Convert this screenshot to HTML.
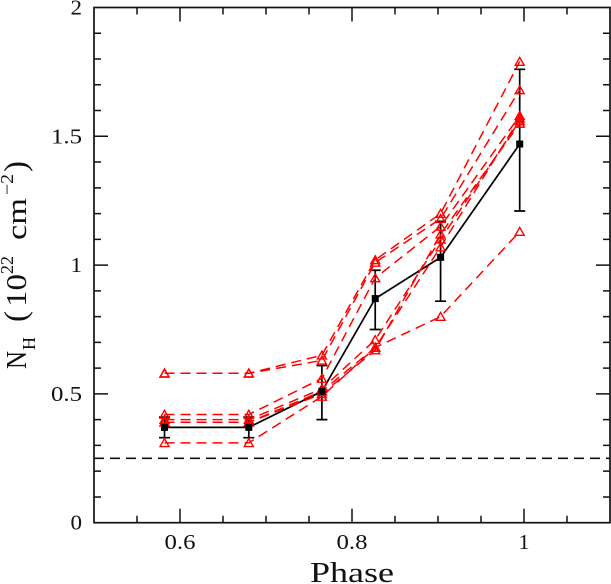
<!DOCTYPE html>
<html>
<head>
<meta charset="utf-8">
<style>
html,body{margin:0;padding:0;background:#fff;}
svg{display:block;}
text{font-family:"Liberation Serif",serif;fill:#111;}
</style>
</head>
<body>
<svg id="chart" xmlns="http://www.w3.org/2000/svg" width="611" height="584" viewBox="0 0 611 584">
<rect x="0" y="0" width="611" height="584" fill="#fff"/>
<text x="310" y="582" font-size="29" textLength="84" lengthAdjust="spacingAndGlyphs">Phase</text>
<g>
<text transform="translate(26,369) rotate(-90)" font-size="28" textLength="18" lengthAdjust="spacingAndGlyphs">N</text>
<text transform="translate(35,350) rotate(-90)" font-size="18" textLength="13" lengthAdjust="spacingAndGlyphs">H</text>
<text transform="translate(26,322) rotate(-90)" font-size="32" textLength="11" lengthAdjust="spacingAndGlyphs">(</text>
<text transform="translate(26,307) rotate(-90)" font-size="28" textLength="33" lengthAdjust="spacingAndGlyphs">10</text>
<text transform="translate(13,274) rotate(-90)" font-size="18" textLength="18" lengthAdjust="spacingAndGlyphs">22</text>
<text transform="translate(26,240) rotate(-90)" font-size="28" textLength="42" lengthAdjust="spacingAndGlyphs">cm</text>
<text transform="translate(13,195) rotate(-90)" font-size="18" textLength="21" lengthAdjust="spacingAndGlyphs">−2</text>
<text transform="translate(26,172) rotate(-90)" font-size="32" textLength="11" lengthAdjust="spacingAndGlyphs">)</text>
</g>
</svg>
<script>
var phases = [0.582, 0.68, 0.765, 0.827, 0.903, 0.995];
var redSeriesA = [0.58, 0.58, 0.65, 1.02, 1.20, 1.79];
var redSeriesB = [0.58, 0.58, 0.63, 1.01, 1.18, 1.68];
var redSeriesC = [0.42, 0.42, 0.56, 0.95, 1.15, 1.58];
var redSeriesD = [0.40, 0.40, 0.52, 0.71, 1.10, 1.56];
var redSeriesE = [0.39, 0.39, 0.51, 0.68, 1.07, 1.57];
var redSeriesF = [0.39, 0.39, 0.50, 0.67, 1.12, 1.55];
var redSeriesG = [0.31, 0.31, 0.49, 0.68, 0.80, 1.13];
var meanValues = [0.37, 0.37, 0.51, 0.87, 1.03, 1.47];
var errorLow = [0.33, 0.33, 0.40, 0.75, 0.86, 1.21];
var errorHigh = [0.41, 0.41, 0.61, 0.98, 1.17, 1.76];
var referenceLevel = [0.25];
var xMajorTicks = [0.6, 0.8, 1.0];
var xMinorTicks = [0.55, 0.65, 0.7, 0.75, 0.85, 0.9, 0.95, 1.05];
var yMajorTicks = [0.5, 1, 1.5];
var yMinorTicks = [0.1, 0.2, 0.3, 0.4, 0.6, 0.7, 0.8, 0.9, 1.1, 1.2, 1.3, 1.4, 1.6, 1.7, 1.8, 1.9];
var xTickLabels = ["0.6", "0.8", "1"];
var yTickLabels = ["0", "0.5", "1", "1.5", "2"];
var yLabelValues = [0, 0.5, 1, 1.5, 2];
var xDomain = [0.5, 1.1];
var yDomain = [0, 2];

var svg = document.getElementById('chart');
var NS = 'http://www.w3.org/2000/svg';
var L = 94, R = 610, T = 7.5, B = 522.7;
function sx(v) { return L + (v - xDomain[0]) / (xDomain[1] - xDomain[0]) * (R - L); }
function sy(v) { return B - (v - yDomain[0]) / (yDomain[1] - yDomain[0]) * (B - T); }
function mk(tag, attrs) {
  var e = document.createElementNS(NS, tag);
  for (var k in attrs) e.setAttribute(k, attrs[k]);
  return e;
}
function linePts(vals) {
  return vals.map(function (v, i) { return sx(phases[i]).toFixed(2) + ',' + sy(v).toFixed(2); }).join(' ');
}

var refLine = mk('line', { x1: L, x2: R, y1: sy(referenceLevel[0]), y2: sy(referenceLevel[0]), stroke: '#111', 'stroke-width': 1.6, 'stroke-dasharray': '10 6' });


svg.appendChild(refLine);

var meanGroup = mk('g', {});


var meanLine = mk('polyline', { points: linePts(meanValues), fill: 'none', stroke: '#000', 'stroke-width': 1.7 });


meanGroup.appendChild(meanLine);
meanValues.forEach(function (v, i) {
  var x = sx(phases[i]);
  var bar = mk('path', {
    d: 'M' + x + ' ' + sy(errorLow[i]) + 'V' + sy(errorHigh[i]) +
       'M' + (x - 5.5) + ' ' + sy(errorLow[i]) + 'h11' +
       'M' + (x - 5.5) + ' ' + sy(errorHigh[i]) + 'h11',
    fill: 'none', stroke: '#000', 'stroke-width': 1.7
  });
  
  
  meanGroup.appendChild(bar);
});
svg.appendChild(meanGroup);

var redList = [redSeriesA, redSeriesB, redSeriesC, redSeriesD, redSeriesE, redSeriesF, redSeriesG];
redList.forEach(function (vals) {
  var g = mk('g', {});
  
  
  var pl = mk('polyline', { points: linePts(vals), fill: 'none', stroke: '#ff0000', 'stroke-width': 1.5, 'stroke-dasharray': '10 6' });
  
  
  g.appendChild(pl);
  vals.forEach(function (v, i) {
    var x = sx(phases[i]), y = sy(v);
    var tri = mk('polygon', { points: (x - 4.5) + ',' + (y + 3.7) + ' ' + (x + 4.5) + ',' + (y + 3.7) + ' ' + x + ',' + (y - 4.2), fill: 'none', stroke: '#ff0000', 'stroke-width': 1.4 });
    
    
    g.appendChild(tri);
  });
  svg.appendChild(g);
});

meanValues.forEach(function (v, i) {
  var x = sx(phases[i]);
  var sq = mk('rect', { x: x - 3.5, y: sy(v) - 3.5, width: 7, height: 7, fill: '#000' });
  
  
  svg.appendChild(sq);
});

var frame = mk('rect', { x: L, y: T, width: R - L, height: B - T, fill: 'none', stroke: '#111', 'stroke-width': 1.7 });


svg.appendChild(frame);

function xTick(v, len) {
  var p = mk('path', { d: 'M' + sx(v) + ' ' + B + 'v' + (-len) + 'M' + sx(v) + ' ' + T + 'v' + len, stroke: '#111', 'stroke-width': 1.5, fill: 'none' });
  
  
  svg.appendChild(p);
}
function yTick(v, len) {
  var p = mk('path', { d: 'M' + L + ' ' + sy(v) + 'h' + len + 'M' + R + ' ' + sy(v) + 'h' + (-len), stroke: '#111', 'stroke-width': 1.5, fill: 'none' });
  
  
  svg.appendChild(p);
}
xMajorTicks.forEach(function (v) { xTick(v, 14); });
xMinorTicks.forEach(function (v) { xTick(v, 7); });
yMajorTicks.forEach(function (v) { yTick(v, 14); });
yMinorTicks.forEach(function (v) { yTick(v, 7); });

xTickLabels.forEach(function (s, i) {
  var w = s.length > 1 ? 31 : 11;
  var t = mk('text', { x: sx(xMajorTicks[i]) - w / 2, y: 549, 'font-size': 21, textLength: w, lengthAdjust: 'spacingAndGlyphs' });
  t.textContent = s;
  
  
  svg.appendChild(t);
});
yTickLabels.forEach(function (s, i) {
  var w = s.length > 1 ? 31 : 11.5;
  var t = mk('text', { x: 82 - w, y: sy(yLabelValues[i]) + 7, 'font-size': 21, textLength: w, lengthAdjust: 'spacingAndGlyphs' });
  t.textContent = s;
  
  
  svg.appendChild(t);
});
</script>
</body>
</html>
